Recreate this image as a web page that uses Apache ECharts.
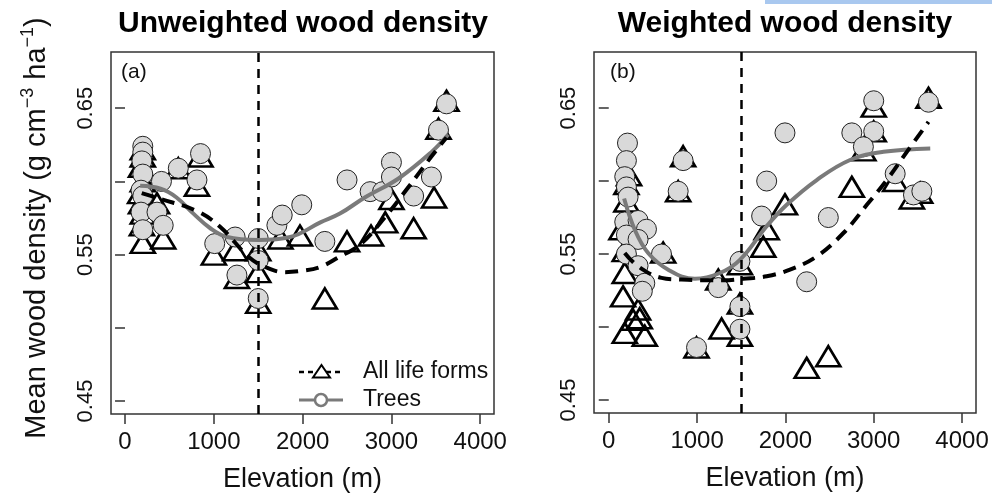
<!DOCTYPE html>
<html><head><meta charset="utf-8">
<script src="https://cdn.jsdelivr.net/npm/echarts@6/dist/echarts.min.js"></script>
<style>html,body{margin:0;padding:0;background:#fff}#c{width:992px;height:498px}</style>
</head><body><div id="c"></div>
<script>
// ---- tick values ----
const xTicks = [0, 1000, 2000, 3000, 4000];
const yTicks = [0.45, 0.50, 0.55, 0.60, 0.65];
const yLabelVals = [0.45, 0.55, 0.65];
const breakElev = 1500;

// ---- panel (a): unweighted ----
const aAllElev = [200,200,180,200,170,180,200,190,200,360,430,600,810,850,1000,1240,1260,1500,1500,1500,1750,1970,2250,2500,2770,2930,3000,3250,3480,3530,3620];
const aAllWd   = [0.622,0.617,0.610,0.600,0.592,0.585,0.578,0.570,0.558,0.585,0.561,0.609,0.597,0.617,0.550,0.553,0.534,0.553,0.538,0.517,0.561,0.563,0.520,0.559,0.563,0.572,0.588,0.568,0.589,0.636,0.655];
const aTreeElev = [200,200,190,200,180,200,180,200,360,430,410,600,810,850,1010,1240,1260,1500,1500,1500,1710,1770,1990,2250,2500,2760,2900,3000,3000,3250,3450,3530,3620];
const aTreeWd   = [0.624,0.620,0.614,0.605,0.594,0.590,0.579,0.567,0.579,0.570,0.600,0.609,0.601,0.619,0.5575,0.562,0.536,0.561,0.546,0.520,0.570,0.577,0.584,0.559,0.601,0.593,0.593,0.613,0.603,0.590,0.603,0.635,0.653];
const aFitAllElev = [188,400,800,1070,1400,1600,1800,2000,2200,2400,2650,2920,3190,3450,3620];
const aFitAllWd   = [0.592,0.588,0.580,0.569,0.548,0.541,0.538,0.539,0.5416,0.548,0.557,0.575,0.596,0.617,0.630];
const aFitTreeElev = [170,400,580,770,960,1150,1500,1860,2200,2420,2700,3080,3450,3640];
const aFitTreeWd   = [0.597,0.595,0.589,0.578,0.568,0.562,0.560,0.562,0.572,0.578,0.589,0.602,0.620,0.632];

// ---- panel (b): weighted ----
const bAllElev = [842,786,230,200,200,144,181,181,162,332,276,181,408,351,616,1278,994,1240,1485,1485,1485,1750,1788,1995,2241,2486,2752,3000,3000,2883,3243,3432,3526,3620];
const bAllWd   = [0.617,0.593,0.604,0.598,0.586,0.567,0.552,0.537,0.521,0.512,0.505,0.496,0.494,0.506,0.551,0.499,0.486,0.5325,0.543,0.516,0.494,0.555,0.567,0.584,0.472,0.480,0.596,0.651,0.634,0.621,0.600,0.588,0.592,0.657];
const bTreeElev = [212,200,181,200,219,181,332,427,200,332,597,200,332,408,380,1240,994,842,786,3000,1995,2752,3000,2883,3243,3450,3545,3620,1788,1731,2486,1485,2241,1485,1485];
const bTreeWd   = [0.626,0.614,0.603,0.596,0.589,0.572,0.573,0.567,0.563,0.560,0.550,0.550,0.542,0.530,0.5245,0.527,0.486,0.614,0.593,0.655,0.633,0.633,0.634,0.6235,0.605,0.5905,0.593,0.654,0.600,0.576,0.575,0.545,0.531,0.514,0.4985];
const bFitAllElev = [181,332,597,824,1100,1300,1523,1788,2052,2355,2657,2922,3148,3375,3620];
const bFitAllWd   = [0.5507,0.5416,0.5337,0.5325,0.532,0.532,0.533,0.5348,0.5393,0.5484,0.5644,0.5837,0.6007,0.620,0.6405];
const bFitTreeElev = [174,295,446,673,975,1259,1485,1788,2015,2355,2732,3110,3640];
const bFitTreeWd   = [0.588,0.5666,0.5507,0.5393,0.533,0.537,0.546,0.569,0.5837,0.6007,0.6144,0.620,0.6223];

const FONT = '"Liberation Sans", Arial, Helvetica, sans-serif';
const pairs = (xs, ys) => xs.map((x, i) => [x, ys[i]]);

const grids = [
  {left: 111, top: 52, width: 383, height: 362},
  {left: 594, top: 52, width: 382, height: 361}
];
const xRanges = [[-158, 4155], [-167, 4158]];

function xAxisFor(i) {
  return {
    type: 'value', gridIndex: i, min: xRanges[i][0], max: xRanges[i][1],
    splitLine: {show: false}, axisLine: {show: false},
    axisTick: {show: true, length: 10, customValues: xTicks, lineStyle: {color: '#333', width: 1.5}},
    axisLabel: {customValues: xTicks, fontSize: 24, fontFamily: FONT, color: '#111', margin: 16,
      formatter: v => String(Math.round(v))},
    name: 'Elevation (m)', nameLocation: 'middle', nameGap: 52,
    nameTextStyle: {fontSize: 27, fontFamily: FONT, color: '#111'}
  };
}
function yAxisFor(i) {
  return {
    type: 'value', gridIndex: i, min: 0.4411, max: 0.6884,
    splitLine: {show: false}, axisLine: {show: false},
    axisTick: {show: true, length: 10, customValues: yTicks, lineStyle: {color: '#333', width: 1.5}},
    axisLabel: {customValues: yLabelVals, rotate: 90, fontSize: 22, fontFamily: FONT, color: '#111', margin: 14,
      formatter: v => v.toFixed(2)}
  };
}
function seriesFor(i, allE, allW, trE, trW, fAE, fAW, fTE, fTW) {
  return [
    {type: 'scatter', xAxisIndex: i, yAxisIndex: i, data: pairs(allE, allW), symbol: 'triangle',
     symbolSize: [24, 20], z: 2, emphasis: {disabled: true},
     itemStyle: {color: 'rgba(0,0,0,0)', borderColor: '#000', borderWidth: 2.6, opacity: 1}},
    {type: 'scatter', xAxisIndex: i, yAxisIndex: i, data: pairs(trE, trW), symbol: 'circle',
     symbolSize: 20, z: 3, emphasis: {disabled: true},
     itemStyle: {color: '#d9d9d9', borderColor: '#222', borderWidth: 1, opacity: 1}},
    {type: 'line', xAxisIndex: i, yAxisIndex: i, data: pairs(fTE, fTW), smooth: 0.4, symbol: 'none', z: 4,
     lineStyle: {color: '#7a7a7a', width: 4}, emphasis: {disabled: true}},
    {type: 'line', xAxisIndex: i, yAxisIndex: i, data: pairs(fAE, fAW), smooth: 0.4, symbol: 'none', z: 5,
     lineStyle: {color: '#000', width: 4, type: [13, 8]}, emphasis: {disabled: true},
     markLine: {silent: true, symbol: 'none', label: {show: false}, animation: false,
       lineStyle: {color: '#000', width: 2.5, type: [9, 7]}, data: [{xAxis: breakElev}]}}
  ];
}

const chart = echarts.init(document.getElementById('c'), null, {renderer: 'canvas'});
chart.setOption({
  animation: false,
  backgroundColor: '#fff',
  grid: grids.map(g => Object.assign({show: true, borderColor: '#333', borderWidth: 1.5, backgroundColor: 'transparent'}, g)),
  xAxis: [xAxisFor(0), xAxisFor(1)],
  yAxis: [yAxisFor(0), yAxisFor(1)],
  series: [
    ...seriesFor(0, aAllElev, aAllWd, aTreeElev, aTreeWd, aFitAllElev, aFitAllWd, aFitTreeElev, aFitTreeWd),
    ...seriesFor(1, bAllElev, bAllWd, bTreeElev, bTreeWd, bFitAllElev, bFitAllWd, bFitTreeElev, bFitTreeWd)
  ],
  graphic: [
    {type: 'rect', shape: {x: 765, y: 0, width: 227, height: 4}, style: {fill: '#a9c8ef'}},
    {type: 'text', x: 303, y: 24, style: {text: 'Unweighted wood density', font: 'bold 30px ' + FONT, fill: '#000', align: 'center', verticalAlign: 'middle'}},
    {type: 'text', x: 785, y: 24, style: {text: 'Weighted wood density', font: 'bold 30px ' + FONT, fill: '#000', align: 'center', verticalAlign: 'middle'}},
    {type: 'text', x: 121, y: 72, style: {text: '(a)', font: '21px ' + FONT, fill: '#111', align: 'left', verticalAlign: 'middle'}},
    {type: 'text', x: 610, y: 72, style: {text: '(b)', font: '21px ' + FONT, fill: '#111', align: 'left', verticalAlign: 'middle'}},
    {type: 'text', x: 37, y: 228, rotation: Math.PI / 2,
     style: {text: 'Mean wood density (g cm{s|\u22123} ha{s|\u22121})', font: '29px ' + FONT, fill: '#111',
       align: 'center', verticalAlign: 'middle', lineHeight: 36,
       rich: {s: {fontSize: 18, fontFamily: FONT, fill: '#111', verticalAlign: 'top', lineHeight: 18}}}},
    // legend
    {type: 'line', shape: {x1: 299, y1: 372, x2: 343, y2: 372}, style: {stroke: '#000', lineWidth: 2.5, lineDash: [5, 4]}},
    {type: 'polygon', shape: {points: [[321.5, 365], [330, 377.5], [313, 377.5]]}, style: {fill: '#fff', stroke: '#000', lineWidth: 2}},
    {type: 'text', x: 363, y: 372, style: {text: 'All life forms', font: '23px ' + FONT, fill: '#111', align: 'left', verticalAlign: 'middle'}},
    {type: 'line', shape: {x1: 299, y1: 400, x2: 343, y2: 400}, style: {stroke: '#7a7a7a', lineWidth: 3}},
    {type: 'circle', shape: {cx: 321, cy: 400, r: 6}, style: {fill: '#fff', stroke: '#7a7a7a', lineWidth: 2.5}},
    {type: 'text', x: 363, y: 400, style: {text: 'Trees', font: '23px ' + FONT, fill: '#111', align: 'left', verticalAlign: 'middle'}}
  ]
});
</script>
</body></html>
